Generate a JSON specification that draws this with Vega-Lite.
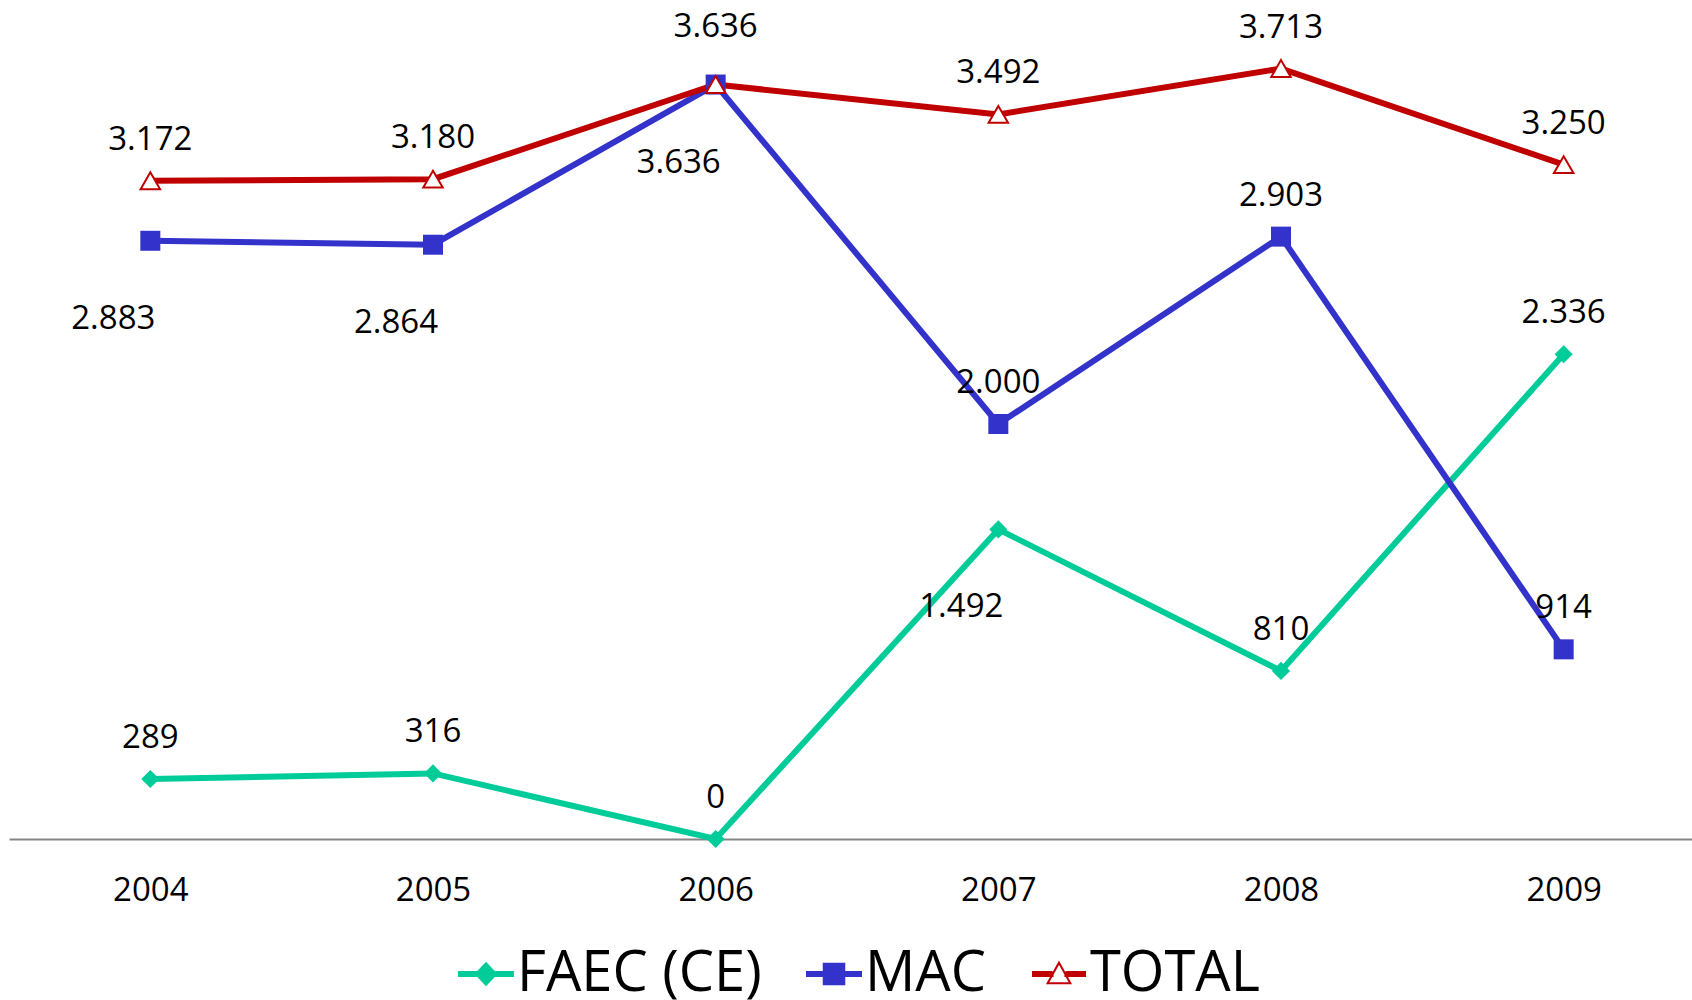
{
  "$schema": "https://vega.github.io/schema/vega-lite/v6.json",
  "width": 1696,
  "height": 830,
  "autosize": {"type": "none"},
  "padding": {"left": 9, "top": 9, "right": 0, "bottom": 161},
  "background": "white",
  "config": {
    "view": {"stroke": null},
    "font": "Open Sans",
    "locale": {"number": {"decimal": ",", "thousands": ".", "grouping": [3], "currency": ["", "€"]}},
    "legend": {
      "labelFontSize": 56,
      "labelFont": "Open Sans",
      "labelColor": "black",
      "labelLimit": 600,
      "symbolSize": 2916,
      "symbolStrokeWidth": 2,
      "labelOffset": 3,
      "columnPadding": 41,
      "padding": 0,
      "symbolOpacity": 1
    }
  },
  "data": {
    "values": [
      {"year": "2004", "series": "FAEC (CE)", "value": 289, "labelSide": "above"},
      {"year": "2005", "series": "FAEC (CE)", "value": 316, "labelSide": "above"},
      {"year": "2006", "series": "FAEC (CE)", "value": 0, "labelSide": "above"},
      {"year": "2007", "series": "FAEC (CE)", "value": 1492, "labelSide": "below"},
      {"year": "2008", "series": "FAEC (CE)", "value": 810, "labelSide": "above"},
      {"year": "2009", "series": "FAEC (CE)", "value": 2336, "labelSide": "above"},
      {"year": "2004", "series": "MAC", "value": 2883, "labelSide": "below"},
      {"year": "2005", "series": "MAC", "value": 2864, "labelSide": "below"},
      {"year": "2006", "series": "MAC", "value": 3636, "labelSide": "below"},
      {"year": "2007", "series": "MAC", "value": 2000, "labelSide": "above"},
      {"year": "2008", "series": "MAC", "value": 2903, "labelSide": "above"},
      {"year": "2009", "series": "MAC", "value": 914, "labelSide": "above"},
      {"year": "2004", "series": "TOTAL", "value": 3172, "labelSide": "above"},
      {"year": "2005", "series": "TOTAL", "value": 3180, "labelSide": "above"},
      {"year": "2006", "series": "TOTAL", "value": 3636, "labelSide": "farAbove"},
      {"year": "2007", "series": "TOTAL", "value": 3492, "labelSide": "above"},
      {"year": "2008", "series": "TOTAL", "value": 3713, "labelSide": "above"},
      {"year": "2009", "series": "TOTAL", "value": 3250, "labelSide": "above"}
    ]
  },
  "encoding": {
    "x": {
      "field": "year",
      "type": "ordinal",
      "scale": {"type": "point", "padding": 0.5},
      "axis": {
        "title": null,
        "domainColor": "#858585",
        "domainWidth": 2,
        "ticks": false,
        "grid": false,
        "labelAngle": 0,
        "labelFontSize": 33,
        "labelFont": "Open Sans",
        "labelColor": "black",
        "labelPadding": 35
      }
    },
    "y": {
      "field": "value",
      "type": "quantitative",
      "scale": {"domain": [0, 4000], "nice": false},
      "axis": null
    }
  },
  "layer": [
    {
      "mark": {"type": "point", "filled": true, "strokeWidth": 2, "size": 0},
      "encoding": {
        "shape": {
          "field": "series",
          "type": "nominal",
          "title": null,
          "scale": {
            "domain": ["FAEC (CE)", "MAC", "TOTAL"],
            "range": [
              "M-1,-0.075H1V0.075H-1Z M0,-0.4L0.38,0L0,0.4L-0.38,0Z",
              "M-1,-0.075H1V0.075H-1Z M-0.38,-0.38H0.38V0.38H-0.38Z",
              "M-1,-0.07H-0.24M-1,0H-0.22M-1,0.07H-0.2M0.24,-0.07H1M0.22,0H1M0.2,0.07H1M0,-0.42L0.42,0.34L-0.42,0.34Z"
            ]
          },
          "legend": {"orient": "none", "legendX": 449, "legendY": 937, "direction": "horizontal", "title": null}
        },
        "fill": {
          "field": "series",
          "type": "nominal",
          "title": null,
          "scale": {"domain": ["FAEC (CE)", "MAC", "TOTAL"], "range": ["#00CC99", "#3333CC", "white"]},
          "legend": {"orient": "none", "legendX": 449, "legendY": 937, "direction": "horizontal", "title": null}
        },
        "stroke": {
          "field": "series",
          "type": "nominal",
          "title": null,
          "scale": {"domain": ["FAEC (CE)", "MAC", "TOTAL"], "range": ["#00CC99", "#3333CC", "#C00000"]},
          "legend": {"orient": "none", "legendX": 449, "legendY": 937, "direction": "horizontal", "title": null}
        }
      }
    },
    {
      "mark": {"type": "line", "strokeWidth": 6},
      "encoding": {
        "color": {
          "field": "series",
          "type": "nominal",
          "scale": {"domain": ["FAEC (CE)", "MAC", "TOTAL"], "range": ["#00CC99", "#3333CC", "#C00000"]},
          "legend": null
        }
      }
    },
    {
      "transform": [{"filter": "datum.series === 'FAEC (CE)'"}],
      "mark": {"type": "point", "shape": "diamond", "filled": true, "size": 330, "color": "#00CC99", "opacity": 1}
    },
    {
      "transform": [{"filter": "datum.series === 'MAC'"}],
      "mark": {"type": "point", "shape": "square", "filled": true, "size": 400, "color": "#3333CC", "opacity": 1}
    },
    {
      "transform": [{"filter": "datum.series === 'TOTAL'"}],
      "mark": {"type": "point", "shape": "triangle-up", "filled": true, "size": 380, "fill": "white", "stroke": "#C00000", "strokeWidth": 2, "opacity": 1}
    },
    {
      "transform": [{"filter": "datum.labelSide === 'above'"}],
      "mark": {"type": "text", "dy": -41, "fontSize": 33, "font": "Open Sans", "color": "black", "baseline": "middle", "align": "center"},
      "encoding": {"text": {"field": "value", "type": "quantitative", "format": ","}}
    },
    {
      "transform": [{"filter": "datum.labelSide === 'farAbove'"}],
      "mark": {"type": "text", "dy": -58, "fontSize": 33, "font": "Open Sans", "color": "black", "baseline": "middle", "align": "center"},
      "encoding": {"text": {"field": "value", "type": "quantitative", "format": ","}}
    },
    {
      "transform": [{"filter": "datum.labelSide === 'below'"}],
      "mark": {"type": "text", "dx": -37, "dy": 78, "fontSize": 33, "font": "Open Sans", "color": "black", "baseline": "middle", "align": "center"},
      "encoding": {"text": {"field": "value", "type": "quantitative", "format": ","}}
    }
  ]
}
